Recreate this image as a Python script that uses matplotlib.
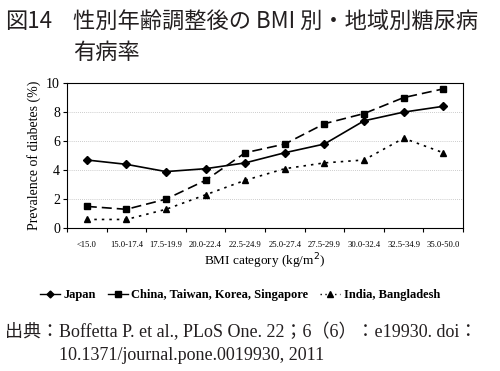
import numpy as np
import matplotlib.pyplot as plt
from matplotlib.lines import Line2D

categories = ["<15.0", "15.0-17.4", "17.5-19.9", "20.0-22.4", "22.5-24.9",
              "25.0-27.4", "27.5-29.9", "30.0-32.4", "32.5-34.9", "35.0-50.0"]
japan = [4.7, 4.4, 3.9, 4.1, 4.5, 5.2, 5.8, 7.4, 8.0, 8.4]
china = [1.5, 1.3, 2.0, 3.3, 5.2, 5.8, 7.2, 7.9, 9.0, 9.6]
india = [0.6, 0.6, 1.3, 2.3, 3.3, 4.1, 4.5, 4.7, 6.2, 5.2]
yticks = [0, 2, 4, 6, 8, 10]

serif = ['Liberation Serif', 'Noto Sans CJK JP']
gothic = ['Noto Sans CJK JP', 'DejaVu Sans']

fig = plt.figure(figsize=(5, 3.71), dpi=100)
ax = fig.add_axes([0.134, 0.385, 0.792, 0.391])

x = np.arange(len(categories))
ax.plot(x, japan, color='black', lw=1.2, marker='D', ms=4, label='Japan')
ax.plot(x, china, color='black', lw=1.2, ls=(0, (6, 3)), marker='s', ms=5,
        label='China, Taiwan, Korea, Singapore')
ax.plot(x, india, color='black', lw=1.2, ls=(0, (1.5, 3)), marker='^', ms=5,
        label='India, Bangladesh')

ax.set_xlim(-0.5, len(categories) - 0.5)
ax.set_ylim(0, 10)
ax.set_yticks(yticks)
ax.set_yticklabels([str(v) for v in yticks], fontsize=10, family=serif)
ax.set_xticks(x)
ax.set_xticklabels(categories, fontsize=6.2, family=serif)
ax.tick_params(axis='x', which='major', length=0, pad=9)
ax.set_xticks(np.arange(len(categories) + 1) - 0.5, minor=True)
ax.tick_params(axis='x', which='minor', length=3, width=0.8)
ax.tick_params(axis='y', length=3, width=0.8, pad=2)
for v in yticks[1:-1]:
    ax.axhline(v, color='#bbbbbb', lw=0.6, ls=(0, (1, 1.5)), zorder=0)
for s in ax.spines.values():
    s.set_linewidth(0.8)

ax.set_ylabel('Prevalence of diabetes (%)', fontsize=10, family=serif, labelpad=4)
ax.set_xlabel('BMI category (kg/m$^2$)', fontsize=9.5, family=serif, labelpad=2)

handles = [Line2D([], [], color='black', lw=1, marker='D', ms=3.5),
           Line2D([], [], color='black', lw=1, marker='s', ms=4),
           Line2D([], [], color='black', lw=1, ls=(0, (1, 2.5)), marker='^', ms=4)]
fig.legend(handles, ['Japan', 'China, Taiwan, Korea, Singapore', 'India, Bangladesh'],
           loc='center', bbox_to_anchor=(0.48, 0.205), ncol=3, frameon=False,
           handlelength=1.6, handletextpad=0.3, columnspacing=0.9,
           prop={'family': serif, 'size': 9, 'weight': 'bold'})

tc = '#231f20'
fig.text(0.01, 0.942, '図14', fontsize=16, family=gothic, color=tc, va='center')
fig.text(0.146, 0.942, '性別年齢調整後の BMI 別・地域別糖尿病', fontsize=16,
         family=gothic, color=tc, va='center')
fig.text(0.146, 0.858, '有病率', fontsize=16, family=gothic, color=tc, va='center')

fig.text(0.01, 0.105, '出典：Boffetta P. et al., PLoS One. 22；6（6）：e19930. doi：',
         fontsize=13, family=serif, color=tc, va='center')
fig.text(0.118, 0.043, '10.1371/journal.pone.0019930, 2011',
         fontsize=13, family=serif, color=tc, va='center')

fig.savefig('out.png', dpi=100)
